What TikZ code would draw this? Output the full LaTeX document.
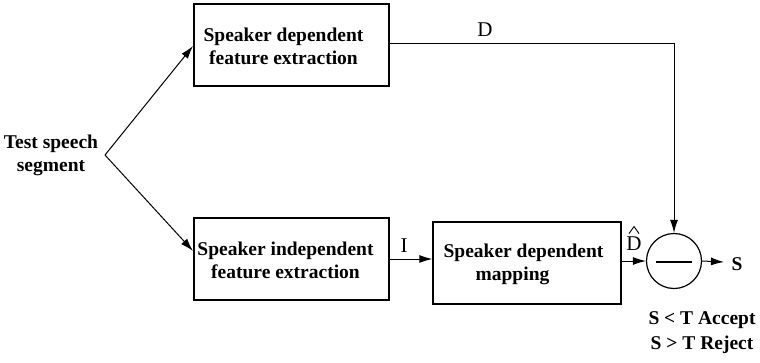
\documentclass[tikz,border=0pt]{standalone}
\usepackage{fontspec}
\setmainfont{Liberation Serif}
\usetikzlibrary{arrows.meta}
\begin{document}
\begin{tikzpicture}[x=1pt,y=-1pt,
  every node/.style={font=\fontsize{19.5}{23}\selectfont\bfseries},
  blk/.style={draw,line width=1.3pt,inner sep=0pt,minimum height=82pt},
  txt/.style={align=center,inner sep=0pt},
  lbl/.style={font=\fontsize{21}{23}\selectfont},
  conn/.style={line width=1pt},
  arr/.style={conn,-{Latex[length=13pt,width=8pt]}}]
\useasboundingbox (0,0) rectangle (760,362);
% processing blocks
\node[blk,minimum width=195pt] (sdfe) at (291.5,45) {};
\node[txt] (sdfe-t) at ([xshift=-8pt,yshift=-1.5pt]sdfe.center) {Speaker dependent\\feature extraction};
\node[blk,minimum width=195pt] (sife) at (291.5,259) {};
\node[txt] (sife-t) at ([xshift=-6pt,yshift=-1pt]sife.center) {Speaker independent\\feature extraction};
\node[blk,minimum width=188pt] (map) at (527,263) {};
\node[txt] (map-t) at ([xshift=-3.5pt,yshift=-1pt]map.center) {Speaker dependent\\mapping\hspace*{22pt}};
\node[draw,circle,line width=1.2pt,minimum size=55pt,inner sep=0pt] (diff) at (674,261) {};
\draw[line width=1.2pt] (656,262) -- (692,262);
% input
\node[align=center] (in) at (51,155) {Test speech\\segment};
\coordinate (split) at (105,155);
\draw[arr] (split) -- (193,46);
\draw[arr] (split) -- (193,251);
% feature paths
\draw[arr] (sdfe.east |- 0,43) -| (diff.north);
\node[lbl] (dlab) at (485,30) {D};
\draw[arr] (sife.east) -- (sife.east -| map.west);
\node[lbl] (ilab) at (404,246) {I};
\draw[arr] (map.east |- diff.west) -- (diff.west);
\node[lbl] (dhat) at (634,244) {D};
\draw[line width=0.9pt] ([xshift=-5pt]dhat.north) -- ([yshift=7pt]dhat.north) -- ([xshift=5pt]dhat.north);
% output and decision rule
\coordinate (out) at (724,262);
\draw[arr] (diff.east) -- (out);
\node (s) at (737,264) {S};
\node (acc) at (702,320) {S < T Accept};
\node (rej) at (702,345) {S > T Reject};
\end{tikzpicture}
\end{document}
